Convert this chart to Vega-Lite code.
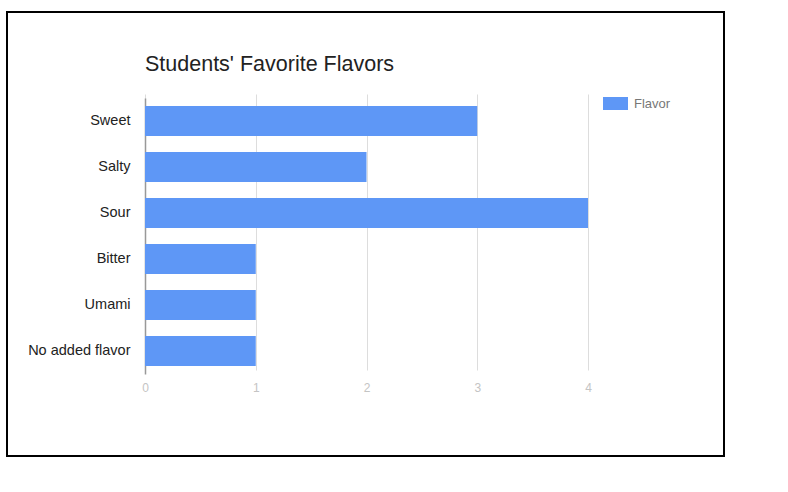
{
  "$schema": "https://vega.github.io/schema/vega-lite/v6.json",
  "width": 717,
  "height": 444,
  "autosize": "none",
  "padding": {"left": 7, "top": 12, "right": 64, "bottom": 36},
  "background": "white",
  "config": {
    "font": "Liberation Sans",
    "view": {"stroke": "black", "strokeWidth": 2}
  },
  "title": {
    "text": "Students' Favorite Flavors",
    "anchor": "start",
    "dx": 138,
    "dy": 67,
    "fontSize": 21.5,
    "fontWeight": "normal",
    "color": "#222222",
    "font": "Liberation Sans"
  },
  "data": {
    "values": [
      {"flavor": "Sweet", "count": 3},
      {"flavor": "Salty", "count": 2},
      {"flavor": "Sour", "count": 4},
      {"flavor": "Bitter", "count": 1},
      {"flavor": "Umami", "count": 1},
      {"flavor": "No added flavor", "count": 1}
    ]
  },
  "mark": {"type": "bar"},
  "encoding": {
    "y": {
      "field": "flavor",
      "type": "nominal",
      "sort": ["Sweet", "Salty", "Sour", "Bitter", "Umami", "No added flavor"],
      "scale": {"range": [86, 362], "paddingInner": 0.35, "paddingOuter": 0.175},
      "axis": {
        "title": null,
        "offset": -138,
        "domain": true,
        "domainColor": "#999999",
        "domainWidth": 1.5,
        "ticks": false,
        "labelPadding": 15,
        "labelFontSize": 14.5,
        "labelColor": "#222222",
        "grid": false
      }
    },
    "x": {
      "field": "count",
      "type": "quantitative",
      "scale": {"domain": [0, 4], "range": [138, 581], "nice": false},
      "axis": {
        "title": null,
        "offset": -82,
        "domain": false,
        "ticks": false,
        "values": [0, 1, 2, 3, 4],
        "format": "d",
        "labelFlush": false,
        "labelPadding": 8,
        "labelFontSize": 12,
        "labelColor": "#c4c4c4",
        "grid": true,
        "gridColor": "#dddddd"
      }
    },
    "color": {
      "datum": "Flavor",
      "scale": {"range": ["#5e97f6"]},
      "legend": {
        "title": null,
        "orient": "none",
        "legendX": 596,
        "legendY": 79,
        "symbolType": "M-1,-0.52H1V0.52H-1Z",
        "symbolSize": 625,
        "symbolStrokeWidth": 0,
        "labelFontSize": 13,
        "labelColor": "#777777",
        "labelOffset": 6
      }
    }
  }
}
